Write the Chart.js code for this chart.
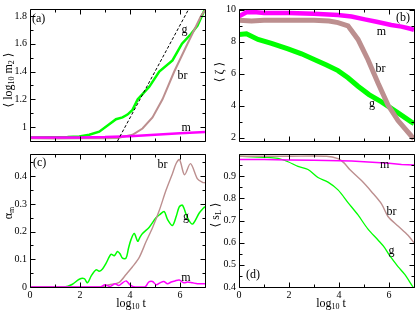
<!DOCTYPE html>
<html><head><meta charset="utf-8">
<script src="https://cdn.jsdelivr.net/npm/chart.js@4/dist/chart.umd.min.js"></script>
<style>
html,body{margin:0;padding:0;background:#fff;}
body{width:415px;height:312px;overflow:hidden;position:relative;font-family:"Liberation Serif","DejaVu Serif",serif;color:#000;}
.p{position:absolute;}
.t{position:absolute;font-size:12px;white-space:nowrap;transform:translate(-50%,-50%);line-height:1;}
.r{transform:translate(-50%,-50%) rotate(-90deg);}
.t sub{font-size:8px;position:relative;top:2px;vertical-align:baseline;}
</style></head><body>
<div class="p" style="left:0;top:0;width:210px;height:150px"><canvas id="ca"></canvas></div>
<div class="p" style="left:210px;top:0;width:205px;height:150px"><canvas id="cb"></canvas></div>
<div class="p" style="left:0;top:145px;width:210px;height:167px"><canvas id="cc"></canvas></div>
<div class="p" style="left:210px;top:145px;width:205px;height:167px"><canvas id="cd"></canvas></div>
<div class="t r" style="left:8px;top:80px">⟨ log<sub>10</sub> m<sub>2</sub> ⟩</div>
<div class="t r" style="left:219px;top:72px">⟨ ζ ⟩</div>
<div class="t r" style="left:8px;top:213px">α<sub>m</sub></div>
<div class="t r" style="left:215px;top:215px">⟨ s<sub>L</sub> ⟩</div>
<div class="t" style="left:131px;top:303px">log<sub>10</sub> t</div>
<div class="t" style="left:331px;top:303px">log<sub>10</sub> t</div>
<script>
// ---- tick values ----
const xMajor = [0, 2, 4, 6];
const xMinor = [1, 3, 5, 7];
const aYMajor = [1, 1.2, 1.4, 1.6, 1.8];
const aYMinor = [1.1, 1.3, 1.5, 1.7];
const bYMajor = [2, 4, 6, 8, 10];
const bYMinor = [3, 5, 7, 9];
const cYMajor = [0, 0.1, 0.2, 0.3, 0.4];
const cYMinor = [0.05, 0.15, 0.25, 0.35, 0.45];
const dYMajor = [0.4, 0.5, 0.6, 0.7, 0.8, 0.9];
const dYMinor = [0.45, 0.55, 0.65, 0.75, 0.85, 0.95];

// ---- panel (a): <log10 m2> ----
const tGa = [0, 1, 1.5, 1.97, 2.37, 2.77, 3.17, 3.44, 3.7, 3.9, 4.1, 4.31, 4.77, 5.17, 5.7, 6.08, 6.44, 6.7, 6.9, 7];
const gA  = [0.925, 0.927, 0.928, 0.932, 0.945, 0.967, 1.02, 1.057, 1.07, 1.09, 1.124, 1.2, 1.29, 1.4, 1.48, 1.6, 1.67, 1.73, 1.81, 1.85];
const tBa = [0, 1, 2, 3, 3.5, 4.1, 4.5, 4.9, 5.3, 5.77, 6.3, 6.84, 7];
const bA  = [0.92, 0.918, 0.92, 0.92, 0.922, 0.945, 0.99, 1.07, 1.2, 1.4, 1.6, 1.8, 1.84];
const tMa = [0, 1, 2, 3, 4, 5, 6, 7];
const mA  = [0.925, 0.925, 0.926, 0.928, 0.935, 0.945, 0.955, 0.965];
const tDa = [3.5, 6.35];
const dA  = [0.9, 1.85];

// ---- panel (b): <zeta> ----
const tMb = [0, 0.3, 0.7, 1, 2, 3, 3.96, 4.5, 5.03, 5.5, 6.09, 6.5, 6.9, 7];
const mB  = [9.6, 9.85, 9.85, 9.8, 9.8, 9.75, 9.68, 9.58, 9.4, 9.25, 9.05, 8.95, 8.8, 8.75];
const tBb = [0, 0.5, 1, 2, 3, 3.6, 3.96, 4.36, 4.76, 5.16, 5.56, 5.96, 6.36, 6.9, 7];
const bB  = [9.35, 9.3, 9.35, 9.35, 9.35, 9.3, 9.2, 9.0, 8.15, 6.88, 5.42, 4.05, 3.08, 2.1, 1.95];
const tGb = [0, 0.3, 0.76, 1.3, 1.96, 2.5, 3.03, 3.5, 3.96, 4.36, 4.76, 5.2, 5.7, 6.36, 6.9, 7];
const gB  = [8.45, 8.5, 8.15, 7.9, 7.56, 7.25, 6.88, 6.55, 6.2, 5.75, 5.22, 4.7, 4.25, 3.56, 2.98, 2.9];

// ---- panel (c): alpha_m ----
const tGc = [0, 1.37, 1.7, 1.97, 2.17, 2.3, 2.45, 2.64, 2.77, 2.9, 3.04, 3.24, 3.37, 3.5, 3.6, 3.7, 3.84, 3.94, 4.04, 4.17, 4.31, 4.4, 4.5, 4.77, 5.04, 5.2, 5.37, 5.5, 5.7, 5.85, 5.97, 6.1, 6.3, 6.5, 6.77, 6.93, 7];
const gC  = [0, 0, 0.01, 0.028, 0.03, 0.015, 0.04, 0.062, 0.057, 0.065, 0.085, 0.118, 0.113, 0.128, 0.12, 0.104, 0.104, 0.14, 0.171, 0.193, 0.165, 0.18, 0.193, 0.216, 0.25, 0.262, 0.272, 0.244, 0.222, 0.255, 0.289, 0.295, 0.25, 0.227, 0.267, 0.284, 0.29];
const tBc = [0, 2.8, 3.17, 3.57, 3.84, 4.1, 4.37, 4.64, 4.9, 5.17, 5.44, 5.7, 5.84, 5.98, 6.18, 6.42, 6.7, 6.9, 7];
const bC  = [0, 0, 0.008, 0.017, 0.045, 0.073, 0.107, 0.163, 0.214, 0.276, 0.349, 0.41, 0.445, 0.46, 0.405, 0.445, 0.39, 0.378, 0.376];
const tMc = [0, 2.8, 3.0, 3.2, 3.4, 3.55, 3.7, 3.85, 4.0, 4.2, 4.6, 4.75, 4.9, 5.05, 5.2, 5.35, 5.5, 5.65, 5.8, 5.97, 6.15, 6.3, 6.5, 6.7, 7];
const mC  = [0, 0, 0.008, 0.002, 0.012, 0.005, 0.015, 0.022, 0.008, 0, 0, 0.018, 0.02, 0.008, 0.015, 0.02, 0.012, 0.018, 0.022, 0.025, 0.015, 0.018, 0.015, 0.012, 0.012];

// ---- panel (d): <s_L> ----
const tGd = [0, 1, 1.56, 1.96, 2.36, 2.76, 3.16, 3.56, 3.96, 4.36, 4.76, 5.16, 5.56, 5.83, 6.03, 6.36, 6.63, 6.96, 7];
const gD  = [0.99, 0.985, 0.98, 0.965, 0.944, 0.93, 0.894, 0.873, 0.838, 0.781, 0.725, 0.661, 0.612, 0.577, 0.541, 0.492, 0.457, 0.4, 0.395];
const tBd = [0, 2, 3.5, 3.96, 4.2, 4.43, 4.9, 5.3, 5.7, 5.96, 6.36, 6.76, 7];
const bD  = [0.99, 0.99, 0.99, 0.979, 0.96, 0.93, 0.88, 0.83, 0.775, 0.718, 0.675, 0.633, 0.6];
const tMd = [0, 1, 2, 3, 4, 4.5, 5, 5.5, 6, 6.5, 7];
const mD  = [0.975, 0.975, 0.973, 0.972, 0.97, 0.968, 0.965, 0.962, 0.958, 0.953, 0.95];

const GREEN = '#00ff00', BROWN = '#bc8f8f', MAG = '#ff00ff';
const pts = (ts, vs) => ts.map((t, i) => ({x: t, y: vs[i]}));
const ds = (ts, vs, color, w, extra) => Object.assign({
  data: pts(ts, vs), borderColor: color, borderWidth: w, pointRadius: 0, fill: false, tension: 0
}, extra || {});

const framePlugin = {
  id: 'frame',
  afterDatasetsDraw(chart, args, o) {
    const {ctx, chartArea: a, scales: {x, y}} = chart;
    ctx.save();
    ctx.strokeStyle = '#000';
    ctx.lineWidth = 1;
    const L = Math.round(a.left) + 0.5, R = Math.round(a.right) + 0.5;
    const T = Math.round(a.top) + 0.5, B = Math.round(a.bottom) + 0.5;
    ctx.beginPath();
    ctx.rect(L, T, R - L, B - T);
    const xt = (vals, len) => vals.forEach(v => {
      const p = Math.round(x.getPixelForValue(v)) + 0.5;
      ctx.moveTo(p, B); ctx.lineTo(p, B - len);
      ctx.moveTo(p, T); ctx.lineTo(p, T + len);
    });
    const yt = (vals, len) => vals.forEach(v => {
      const p = Math.round(y.getPixelForValue(v)) + 0.5;
      ctx.moveTo(L, p); ctx.lineTo(L + len, p);
      ctx.moveTo(R, p); ctx.lineTo(R - len, p);
    });
    xt(xMajor, 5); xt(xMinor, 3);
    yt(o.yMajor, 5); yt(o.yMinor, 3);
    ctx.stroke();
    ctx.fillStyle = '#000';
    ctx.font = '12px "Liberation Serif", serif';
    ctx.textAlign = 'center';
    ctx.textBaseline = 'middle';
    for (const l of o.labels) ctx.fillText(l.text, x.getPixelForValue(l.x), y.getPixelForValue(l.y));
    ctx.textAlign = o.tag.align;
    const tx = o.tag.align === 'left' ? a.left + o.tag.dx : a.right + o.tag.dx;
    const ty = o.tag.fromBottom ? a.bottom + o.tag.dy : a.top + o.tag.dy;
    ctx.fillText(o.tag.text, tx, ty);
    ctx.restore();
  }
};

const tickFont = {family: 'Liberation Serif', size: 10};

function makeChart(id, c) {
  return new Chart(document.getElementById(id), {
    type: 'line',
    data: {datasets: c.datasets},
    options: {
      animation: false, responsive: true, maintainAspectRatio: false, devicePixelRatio: 1,
      layout: {padding: c.pad},
      plugins: {legend: {display: false}, tooltip: {enabled: false},
        frame: {yMajor: c.yMajor, yMinor: c.yMinor, labels: c.labels, tag: c.tag}},
      scales: {
        x: {type: 'linear', min: 0, max: 7,
          grid: {display: false, drawTicks: false}, border: {display: false},
          ticks: {display: c.xLabels, font: tickFont, color: '#000', padding: 2, maxRotation: 0, autoSkip: false,
            callback: v => String(v)},
          afterBuildTicks: s => { s.ticks = xMajor.map(v => ({value: v})); },
          afterFit: s => { s.height = c.xH; }},
        y: {type: 'linear', min: c.yMin, max: c.yMax,
          grid: {display: false, drawTicks: false}, border: {display: false},
          ticks: {font: tickFont, color: '#000', padding: 3, autoSkip: false, callback: v => String(v)},
          afterBuildTicks: s => { s.ticks = c.yMajor.map(v => ({value: v})); },
          afterFit: s => { s.width = c.yW; }}
      }
    },
    plugins: [framePlugin]
  });
}

makeChart('ca', {
  pad: {top: 4, right: 5, bottom: 5, left: 0}, xH: 0, yW: 30, xLabels: false,
  yMin: 0.9, yMax: 1.85, yMajor: aYMajor, yMinor: aYMinor,
  datasets: [
    ds(tDa, dA, '#000', 1, {borderDash: [3, 2]}),
    ds(tMa, mA, MAG, 2.5),
    ds(tBa, bA, BROWN, 2),
    ds(tGa, gA, GREEN, 2.5)
  ],
  labels: [{text: 'g', x: 6.18, y: 1.7}, {text: 'br', x: 6.1, y: 1.366}, {text: 'm', x: 6.25, y: 0.995}],
  tag: {text: '(a)', align: 'left', dx: 2, dy: 10}
});

makeChart('cb', {
  pad: {top: 4, right: 1, bottom: 5, left: 0}, xH: 0, yW: 29, xLabels: false,
  yMin: 1.8, yMax: 10.05, yMajor: bYMajor, yMinor: bYMinor,
  datasets: [
    ds(tBb, bB, BROWN, 5),
    ds(tGb, gB, GREEN, 5),
    ds(tMb, mB, MAG, 4.5)
  ],
  labels: [{text: 'm', x: 5.7, y: 8.64}, {text: 'br', x: 5.66, y: 6.3}, {text: 'g', x: 5.32, y: 4.1}],
  tag: {text: '(b)', align: 'right', dx: -4, dy: 9}
});

makeChart('cc', {
  pad: {top: 0, right: 5, bottom: 0, left: 0}, xH: 25, yW: 30, xLabels: true,
  yMin: 0, yMax: 0.48, yMajor: cYMajor, yMinor: cYMinor,
  datasets: [
    ds(tMc, mC, MAG, 1.5, {tension: 0.3}),
    ds(tBc, bC, BROWN, 1.4, {tension: 0.3}),
    ds(tGc, gC, GREEN, 1.5, {tension: 0.3})
  ],
  labels: [{text: 'br', x: 5.3, y: 0.44}, {text: 'g', x: 6.24, y: 0.255}, {text: 'm', x: 6.24, y: 0.034}],
  tag: {text: '(c)', align: 'left', dx: 3, dy: 9}
});

makeChart('cd', {
  pad: {top: 0, right: 1, bottom: 0, left: 0}, xH: 25, yW: 29, xLabels: true,
  yMin: 0.4, yMax: 1.0, yMajor: dYMajor, yMinor: dYMinor,
  datasets: [
    ds(tMd, mD, MAG, 1.5),
    ds(tBd, bD, BROWN, 1.4, {tension: 0.3}),
    ds(tGd, gD, GREEN, 1.3, {tension: 0.3})
  ],
  labels: [{text: 'm', x: 5.83, y: 0.949}, {text: 'br', x: 6.1, y: 0.738}, {text: 'g', x: 6.1, y: 0.565}],
  tag: {text: '(d)', align: 'left', dx: 7, dy: -12, fromBottom: true}
});
</script>
</body></html>
